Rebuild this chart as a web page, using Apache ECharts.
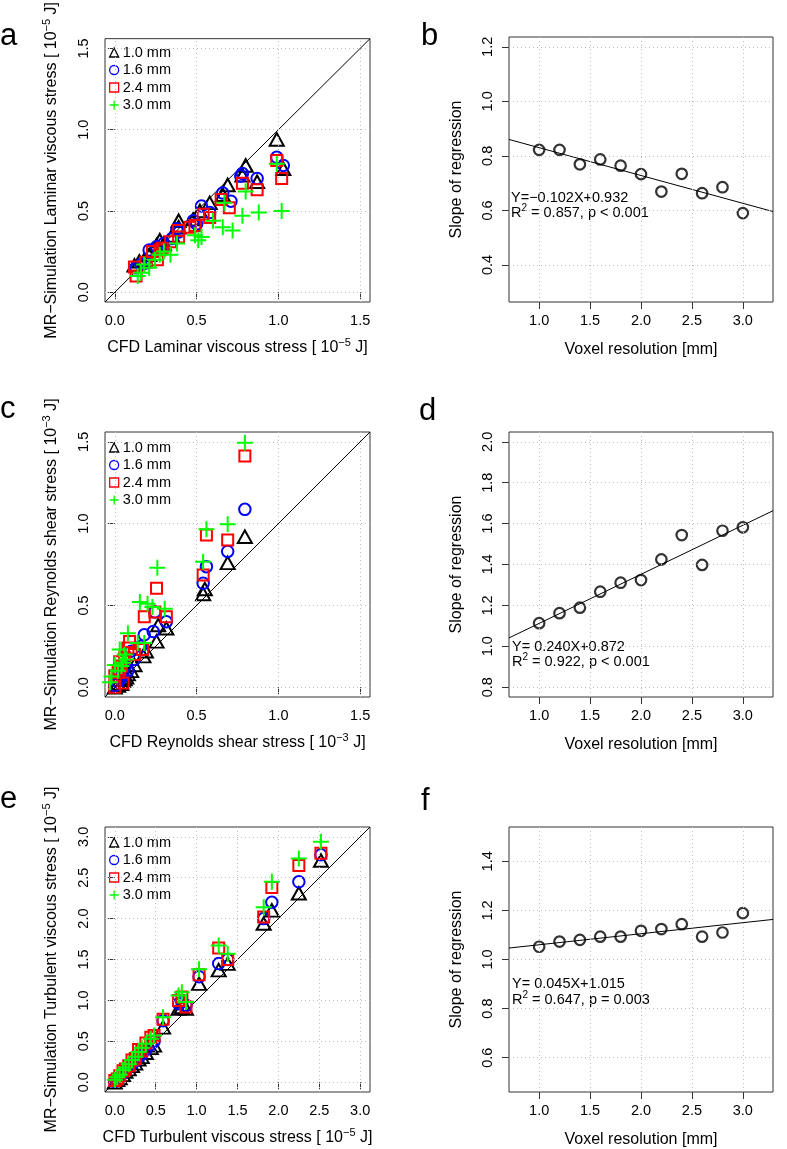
<!DOCTYPE html>
<html><head><meta charset="utf-8">
<script src="https://cdn.jsdelivr.net/npm/echarts@6/dist/echarts.min.js"></script>
<style>html,body{margin:0;padding:0;background:#fff}#c{width:787px;height:1149px}</style>
</head><body><div id="c"></div>
<script>
// ---------------- data ----------------
const seriesNames = ['1.0 mm', '1.6 mm', '2.4 mm', '3.0 mm'];

// panel a: CFD vs MR laminar viscous stress [1e-5 J], [cfd, mr]
const laminar10 = [[0.12,0.165],[0.15,0.19],[0.18,0.20],[0.21,0.23],[0.255,0.29],[0.275,0.32],[0.30,0.30],[0.35,0.35],[0.39,0.40],[0.39,0.44],[0.48,0.45],[0.52,0.50],[0.58,0.55],[0.66,0.60],[0.69,0.66],[0.78,0.72],[0.80,0.78],[0.87,0.68],[0.99,0.94],[1.03,0.76]];
const laminar16 = [[0.13,0.15],[0.16,0.17],[0.19,0.18],[0.21,0.26],[0.255,0.28],[0.30,0.30],[0.35,0.33],[0.38,0.39],[0.39,0.37],[0.48,0.44],[0.50,0.42],[0.53,0.53],[0.58,0.49],[0.66,0.61],[0.71,0.56],[0.77,0.715],[0.78,0.73],[0.87,0.70],[0.99,0.83],[1.03,0.78]];
const laminar24 = [[0.12,0.155],[0.13,0.10],[0.19,0.185],[0.23,0.25],[0.26,0.20],[0.275,0.26],[0.29,0.27],[0.34,0.31],[0.39,0.34],[0.39,0.38],[0.46,0.40],[0.49,0.41],[0.54,0.48],[0.58,0.46],[0.65,0.57],[0.70,0.52],[0.78,0.67],[0.87,0.63],[0.99,0.81],[1.02,0.70]];
const laminar30 = [[0.14,0.10],[0.16,0.12],[0.18,0.17],[0.21,0.15],[0.245,0.20],[0.275,0.23],[0.30,0.25],[0.34,0.23],[0.38,0.30],[0.49,0.35],[0.51,0.32],[0.53,0.34],[0.60,0.44],[0.66,0.40],[0.67,0.55],[0.72,0.38],[0.78,0.47],[0.80,0.62],[0.88,0.49],[0.99,0.79],[1.02,0.50]];

// panel c: Reynolds shear stress [1e-3 J], [cfd, mr]
const reynolds10 = [[0.0,0.0],[0.02,0.01],[0.03,0.03],[0.04,0.02],[0.05,0.04],[0.06,0.05],[0.07,0.06],[0.08,0.08],[0.10,0.10],[0.12,0.136],[0.175,0.19],[0.19,0.22],[0.255,0.28],[0.265,0.38],[0.315,0.36],[0.54,0.57],[0.55,0.60],[0.69,0.76],[0.795,0.92]];
const reynolds16 = [[0.0,0.01],[0.02,0.03],[0.03,0.05],[0.04,0.06],[0.05,0.08],[0.065,0.13],[0.08,0.10],[0.10,0.22],[0.12,0.17],[0.16,0.25],[0.18,0.32],[0.235,0.34],[0.245,0.46],[0.315,0.40],[0.54,0.635],[0.56,0.737],[0.69,0.83],[0.795,1.087]];
const reynolds24 = [[0.0,0.0],[0.0,0.07],[0.02,0.09],[0.03,0.11],[0.03,0.156],[0.04,0.13],[0.05,0.025],[0.06,0.18],[0.08,0.24],[0.09,0.28],[0.12,0.20],[0.17,0.23],[0.18,0.43],[0.245,0.46],[0.255,0.605],[0.315,0.43],[0.54,0.686],[0.56,0.93],[0.69,0.90],[0.795,1.413]];
const reynolds30 = [[-0.03,0.03],[-0.02,0.065],[0.0,0.136],[0.02,0.10],[0.04,0.13],[0.03,0.23],[0.05,0.15],[0.06,0.20],[0.07,0.17],[0.08,0.33],[0.14,0.27],[0.18,0.27],[0.153,0.52],[0.20,0.51],[0.23,0.49],[0.26,0.73],[0.305,0.48],[0.54,0.767],[0.56,0.965],[0.69,0.996],[0.795,1.494]];

// panel e: turbulent viscous stress [1e-5 J]
const turbulentCFD = [0.0,0.03,0.06,0.10,0.13,0.17,0.21,0.25,0.29,0.33,0.38,0.44,0.48,0.59,0.78,0.82,0.87,1.03,1.27,1.38,1.82,1.92,2.25,2.52];
const turbulent10 = [0.0,0.03,0.05,0.09,0.13,0.16,0.20,0.23,0.28,0.31,0.36,0.42,0.45,0.67,0.90,0.92,0.90,1.205,1.37,1.45,1.94,2.10,2.31,2.71];
const turbulent16 = [0.01,0.04,0.07,0.11,0.15,0.18,0.22,0.26,0.31,0.34,0.40,0.46,0.50,0.75,0.96,0.98,0.94,1.29,1.45,1.50,2.00,2.20,2.45,2.78];
const turbulent24 = [0.02,0.04,0.08,0.14,0.16,0.20,0.27,0.29,0.40,0.38,0.48,0.55,0.57,0.77,1.00,1.04,0.92,1.315,1.64,1.50,2.02,2.38,2.65,2.80];
const turbulent30 = [0.03,0.06,0.09,0.15,0.18,0.22,0.27,0.31,0.37,0.42,0.47,0.53,0.57,0.795,1.06,1.10,0.98,1.38,1.67,1.57,2.14,2.45,2.735,2.94];

// panels b, d, f: slope of regression vs voxel resolution
const voxelResolution = [1.0,1.2,1.4,1.6,1.8,2.0,2.2,2.4,2.6,2.8,3.0];
const slopeLaminar   = [0.822,0.822,0.769,0.787,0.764,0.733,0.669,0.734,0.663,0.685,0.590];
const slopeReynolds  = [1.113,1.162,1.189,1.267,1.311,1.324,1.425,1.544,1.398,1.565,1.582];
const slopeTurbulent = [1.052,1.073,1.080,1.093,1.093,1.117,1.124,1.144,1.093,1.110,1.189];
const fitLaminar   = [-0.102, 0.932];
const fitReynolds  = [0.240, 0.872];
const fitTurbulent = [0.045, 1.015];

// tick labels
const ticksStress15 = [0.0,0.5,1.0,1.5];
const ticksStress30 = [0.0,0.5,1.0,1.5,2.0,2.5,3.0];
const ticksVoxel = [1.0,1.5,2.0,2.5,3.0];
const ticksSlopeB = [0.4,0.6,0.8,1.0,1.2];
const ticksSlopeD = [0.8,1.0,1.2,1.4,1.6,1.8,2.0];
const ticksSlopeF = [0.6,0.8,1.0,1.2,1.4];

// ---------------- chart ----------------
const FONT = '"Liberation Sans", Arial, Helvetica, sans-serif';
const RICH = {
  n: {fontSize: 16, fontFamily: FONT, color: '#000', lineHeight: 21},
  s: {fontSize: 11, fontFamily: FONT, color: '#000', verticalAlign: 'top'},
  m: {fontSize: 14.5, fontFamily: FONT, color: '#000', lineHeight: 19},
  ms: {fontSize: 10, fontFamily: FONT, color: '#000', verticalAlign: 'top'}
};
const grids = [
  {left: 105, top: 37, width: 265, height: 265},
  {left: 509, top: 37, width: 264, height: 265},
  {left: 105, top: 432, width: 265, height: 265},
  {left: 509, top: 432, width: 264, height: 265},
  {left: 105, top: 827, width: 265, height: 265},
  {left: 509, top: 827, width: 264, height: 265}
].map(g => Object.assign(g, {show: true, borderColor: '#333', borderWidth: 1, backgroundColor: 'transparent', containLabel: false}));

function axis(gi, min, max, ticks, name, isY, gap) {
  return {
    type: 'value', gridIndex: gi, min: min, max: max,
    axisLine: {show: false},
    axisTick: {show: true, length: 7, lineStyle: {color: '#333', width: 1}, customValues: ticks},
    axisLabel: {customValues: ticks, formatter: v => v.toFixed(1), fontSize: 14.5, fontFamily: FONT, color: '#000',
                margin: isY ? 14 : 11, rotate: isY ? 90 : 0},
    splitLine: {show: false},
    name: name, nameLocation: 'middle', nameGap: gap, nameRotate: isY ? 90 : 0,
    nameTextStyle: {fontSize: 16, fontFamily: FONT, color: '#000', rich: RICH}
  };
}

const xAxes = [
  axis(0, -0.06, 1.56, ticksStress15, '{n|CFD Laminar viscous stress [ 10}{s|−5}{n| J]}', false, 35),
  axis(1, 0.704, 3.296, ticksVoxel, 'Voxel resolution [mm]', false, 40),
  axis(2, -0.06, 1.56, ticksStress15, '{n|CFD Reynolds shear stress [ 10}{s|−3}{n| J]}', false, 35),
  axis(3, 0.704, 3.296, ticksVoxel, 'Voxel resolution [mm]', false, 40),
  axis(4, -0.12, 3.12, ticksStress30, '{n|CFD Turbulent viscous stress [ 10}{s|−5}{n| J]}', false, 35),
  axis(5, 0.704, 3.296, ticksVoxel, 'Voxel resolution [mm]', false, 40)
];
const yAxes = [
  axis(0, -0.06, 1.56, ticksStress15, '{n|MR−Simulation Laminar viscous stress [ 10}{s|−5}{n| J]}', true, 43),
  axis(1, 0.264, 1.236, ticksSlopeB, 'Slope of regression', true, 44),
  axis(2, -0.06, 1.56, ticksStress15, '{n|MR−Simulation Reynolds shear stress [ 10}{s|−3}{n| J]}', true, 43),
  axis(3, 0.752, 2.048, ticksSlopeD, 'Slope of regression', true, 44),
  axis(4, -0.12, 3.12, ticksStress30, '{n|MR−Simulation Turbulent viscous stress [ 10}{s|−5}{n| J]}', true, 43),
  axis(5, 0.46, 1.54, ticksSlopeF, 'Slope of regression', true, 44)
];

function gridLines(xt, yt) {
  return {
    silent: true, symbol: ['none', 'none'], label: {show: false}, animation: false,
    lineStyle: {type: [1, 3], color: '#bdbdbd', width: 1},
    emphasis: {disabled: true},
    data: xt.map(v => ({xAxis: v})).concat(yt.map(v => ({yAxis: v})))
  };
}

const STYLES = [
  {symbol: 'triangle', size: [14, 12.5], color: '#000000'},
  {symbol: 'circle', size: 11.5, color: '#0000ff'},
  {symbol: 'rect', size: 11, color: '#ff0000'},
  {symbol: 'path://M0,5L10,5M5,0L5,10', size: 16, color: '#00ff00'}
];

const series = [];
function addScatterPanel(gi, lim, ticks, sets) {
  series.push({
    type: 'line', xAxisIndex: gi, yAxisIndex: gi, data: [[lim[0], lim[0]], [lim[1], lim[1]]],
    symbol: 'none', lineStyle: {color: '#000', width: 1}, z: 1, silent: true,
    markLine: gridLines(ticks, ticks)
  });
  sets.forEach((d, k) => {
    const st = STYLES[k];
    series.push({
      type: 'scatter', name: seriesNames[k], xAxisIndex: gi, yAxisIndex: gi, data: d,
      symbol: st.symbol, symbolSize: st.size, z: 2 + k,
      itemStyle: {color: k === 3 ? st.color : 'rgba(0,0,0,0)', borderColor: st.color, borderWidth: 2, opacity: 1}
    });
  });
}
function addSlopePanel(gi, xlim, yticks, slopes, fit) {
  series.push({
    type: 'line', xAxisIndex: gi, yAxisIndex: gi,
    data: [[xlim[0], fit[0] * xlim[0] + fit[1]], [xlim[1], fit[0] * xlim[1] + fit[1]]],
    symbol: 'none', lineStyle: {color: '#000', width: 1}, z: 1, silent: true,
    markLine: gridLines(ticksVoxel, yticks)
  });
  series.push({
    type: 'scatter', xAxisIndex: gi, yAxisIndex: gi,
    data: voxelResolution.map((v, i) => [v, slopes[i]]),
    symbol: 'circle', symbolSize: 10.5, z: 3,
    itemStyle: {color: 'rgba(0,0,0,0)', borderColor: '#000', borderWidth: 2.2}
  });
}

addScatterPanel(0, [-0.06, 1.56], ticksStress15, [laminar10, laminar16, laminar24, laminar30]);
addSlopePanel(1, [0.704, 3.296], ticksSlopeB, slopeLaminar, fitLaminar);
addScatterPanel(2, [-0.06, 1.56], ticksStress15, [reynolds10, reynolds16, reynolds24, reynolds30]);
addSlopePanel(3, [0.704, 3.296], ticksSlopeD, slopeReynolds, fitReynolds);
const zip = ys => turbulentCFD.map((x, i) => [x, ys[i]]);
addScatterPanel(4, [-0.12, 3.12], ticksStress30, [zip(turbulent10), zip(turbulent16), zip(turbulent24), zip(turbulent30)]);
addSlopePanel(5, [0.704, 3.296], ticksSlopeF, slopeTurbulent, fitTurbulent);

function legend(top) {
  return {
    orient: 'vertical', left: 109, top: top, padding: 0, itemGap: 2.5, itemWidth: 9, itemHeight: 9,
    selectedMode: false, data: seriesNames,
    itemStyle: {borderWidth: 1.3},
    textStyle: {fontSize: 14.5, fontFamily: FONT, color: '#000', padding: [0, 0, 0, -1]}
  };
}

const letter = (t, x, y) => ({type: 'text', x: x, y: y, silent: true,
  style: {text: t, font: '31px ' + FONT, fill: '#000', verticalAlign: 'middle', align: 'left'}});
const note = (t, x, y) => ({type: 'text', x: x, y: y, silent: true,
  style: {text: t, fill: '#000', verticalAlign: 'middle', align: 'left', rich: RICH}});

const graphic = [
  letter('a', 0, 36), letter('b', 421, 36), letter('c', 0, 409), letter('d', 419, 411),
  letter('e', 0, 799), letter('f', 421, 801),
  note('{m|Y=−0.102X+0.932}', 511, 198), note('{m|R}{ms|2}{m| = 0.857, p < 0.001}', 511, 213),
  note('{m|Y= 0.240X+0.872}', 512, 647), note('{m|R}{ms|2}{m| = 0.922, p < 0.001}', 512, 662),
  note('{m|Y= 0.045X+1.015}', 512, 984), note('{m|R}{ms|2}{m| = 0.647, p = 0.003}', 512, 1000)
];

const chart = echarts.init(document.getElementById('c'), null, {renderer: 'canvas'});
chart.setOption({
  animation: false,
  backgroundColor: '#fff',
  grid: grids, xAxis: xAxes, yAxis: yAxes, series: series,
  legend: [legend(45), legend(440), legend(835)],
  graphic: graphic
});
</script></body></html>
